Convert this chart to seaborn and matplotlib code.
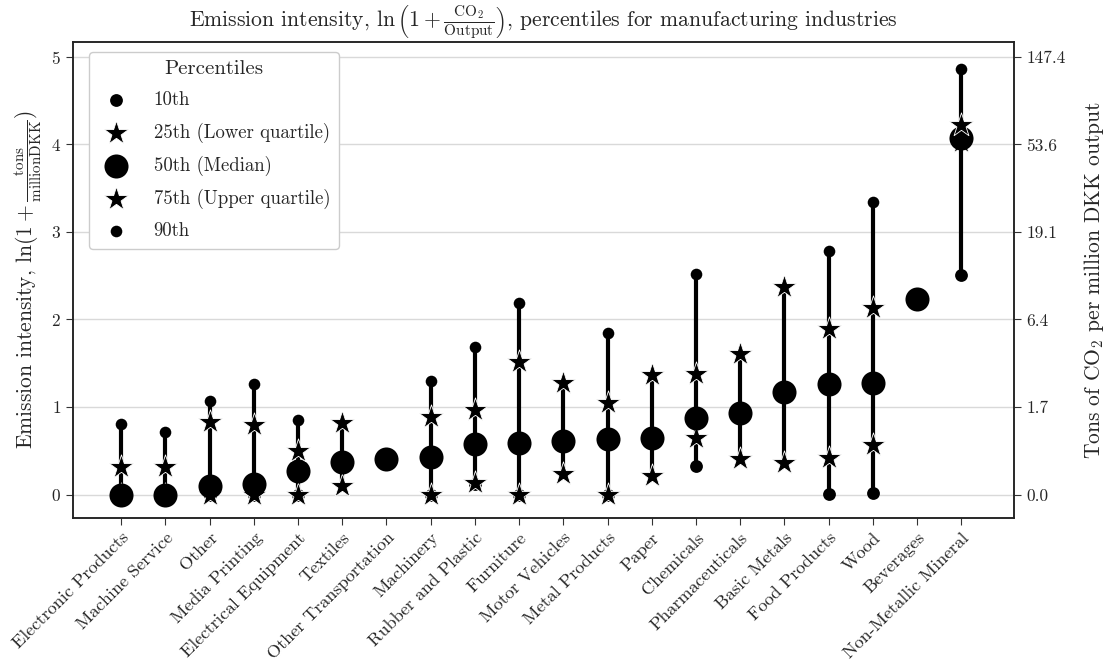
import numpy as np
import pandas as pd
import matplotlib
matplotlib.use("Agg")
import matplotlib.pyplot as plt
import seaborn as sns

industries = [
    "Electronic Products", "Machine Service", "Other", "Media Printing",
    "Electrical Equipment", "Textiles", "Other Transportation", "Machinery",
    "Rubber and Plastic", "Furniture", "Motor Vehicles", "Metal Products",
    "Paper", "Chemicals", "Pharmaceuticals", "Basic Metals", "Food Products",
    "Wood", "Beverages", "Non-Metallic Mineral",
]
nan = np.nan
p10 = [0.00, 0.00, 0.00, 0.00, 0.00, nan, nan, 0.00, 0.12, 0.00,
       nan, 0.00, nan, 0.33, nan, nan, 0.01, 0.02, nan, 2.51]
p25 = [0.00, 0.00, 0.00, 0.00, 0.00, 0.10, nan, 0.00, 0.13, 0.00,
       0.24, 0.00, 0.21, 0.64, 0.41, 0.36, 0.42, 0.57, nan, 4.03]
p50 = [0.00, 0.00, 0.10, 0.12, 0.27, 0.37, 0.41, 0.43, 0.58, 0.59,
       0.61, 0.63, 0.64, 0.87, 0.93, 1.17, 1.26, 1.27, 2.23, 4.07]
p75 = [0.31, 0.31, 0.83, 0.79, 0.50, 0.82, nan, 0.88, 0.96, 1.51,
       1.27, 1.05, 1.36, 1.38, 1.61, 2.37, 1.89, 2.13, nan, 4.22]
p90 = [0.81, 0.71, 1.07, 1.26, 0.85, nan, nan, 1.30, 1.69, 2.19,
       nan, 1.84, nan, 2.52, nan, nan, 2.78, 3.34, nan, 4.86]

log_ticks = [0, 1, 2, 3, 4, 5]

sns.set_style("ticks")
plt.rcParams["font.family"] = "serif"
plt.rcParams["font.serif"] = ["cmr10", "DejaVu Serif"]
plt.rcParams["mathtext.fontset"] = "cm"
plt.rcParams["axes.formatter.use_mathtext"] = True
plt.rcParams["axes.unicode_minus"] = False

df = pd.DataFrame({"industry": industries, "p10": p10, "p25": p25,
                   "p50": p50, "p75": p75, "p90": p90})
pcols = ["p10", "p25", "p50", "p75", "p90"]
df["lo"] = df[pcols].min(axis=1)
df["hi"] = df[pcols].max(axis=1)

fig, ax = plt.subplots(figsize=(11.05, 6.66), dpi=100)
fig.subplots_adjust(left=0.066, right=0.918, top=0.937, bottom=0.222)

# whiskers spanning the available percentiles
ax.vlines(df["industry"], df["lo"], df["hi"], color="black", lw=3, zorder=2)

styles = [
    ("p10", "10th", "o", 85, 0),
    ("p25", "25th (Lower quartile)", "*", 330, 0.6),
    ("p50", "50th (Median)", "o", 300, 0),
    ("p75", "75th (Upper quartile)", "*", 330, 0.6),
    ("p90", "90th", "o", 70, 0),
]
for col, lab, mk, size, elw in styles:
    sns.scatterplot(data=df, x="industry", y=col, marker=mk, s=size,
                    color="black", edgecolor="white", linewidth=elw,
                    label=lab, ax=ax, zorder=3)

ax.set_xlim(-1.09, len(industries) + 0.2)
ax.set_ylim(-0.27, 5.17)
ax.set_yticks(log_ticks)
ax.yaxis.grid(True, color="#d9d9d9", lw=1)
ax.set_axisbelow(True)
ax.set_xlabel("")
ax.set_ylabel(r"Emission intensity, $\ln(1+\frac{\mathrm{tons}}{\mathrm{million DKK}})$",
              fontsize=15.5)
ax.tick_params(axis="y", labelsize=12.5, length=5, color="#333333")
ax.tick_params(axis="x", labelsize=13, length=5, color="#333333")
plt.setp(ax.get_xticklabels(), rotation=45, ha="right", rotation_mode="anchor")

ax.set_title(r"Emission intensity, $\ln\left(1+\frac{\mathrm{CO_2}}{\mathrm{Output}}\right)$"
             ", percentiles for manufacturing industries", fontsize=15.6, pad=7)

ax2 = ax.twinx()
ax2.set_ylim(ax.get_ylim())
ax2.set_yticks(log_ticks)
ax2.set_yticklabels([f"{np.exp(t) - 1:.1f}" for t in log_ticks])
ax2.tick_params(axis="y", labelsize=12.5, length=5, color="#333333")
ax2.set_ylabel(r"Tons of CO$_2$ per million DKK output", fontsize=15.5, labelpad=12)

for a in (ax, ax2):
    for sp in a.spines.values():
        sp.set_visible(True)
        sp.set_color("#222222")
        sp.set_linewidth(1.1)

leg = ax.legend(title="Percentiles", loc="upper left",
                bbox_to_anchor=(0.017, 0.979), borderaxespad=0,
                fontsize=13.5, title_fontsize=15, frameon=True, fancybox=True,
                edgecolor="#cccccc", framealpha=1, borderpad=0.45,
                labelspacing=0.7, handletextpad=1.0)

fig.savefig("out.png", dpi=100)
